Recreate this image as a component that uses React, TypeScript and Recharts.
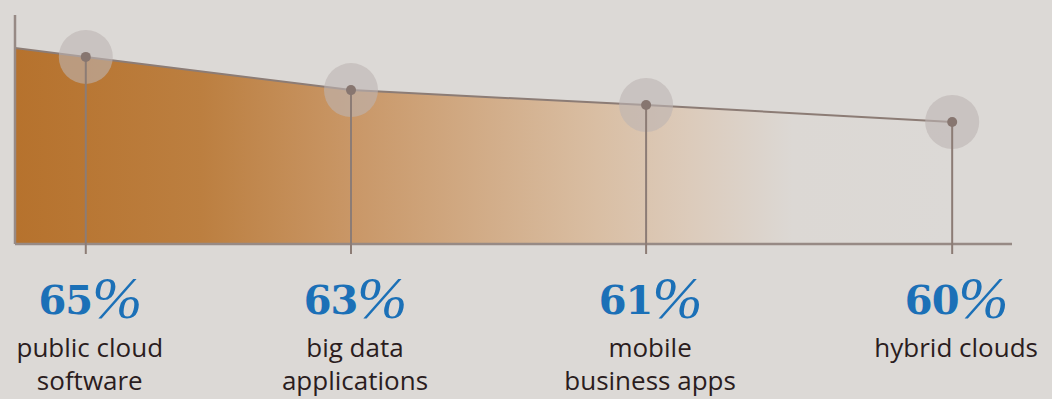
import React from 'react';
import { ComposedChart, Area, XAxis, YAxis } from 'recharts';

// where each point sits along the axis (0-100) and how high the curve is there
const positions = [0, 7.1, 33.7, 63.3, 94.0];
const heights = [85.6, 81.7, 67.2, 60.7, 53.3];
const percents = [null, 65, 63, 61, 60];
const labelLines = [
  [],
  ['public cloud', 'software'],
  ['big data', 'applications'],
  ['mobile', 'business apps'],
  ['hybrid clouds'],
];

const data = positions.map((pos, i) => ({
  pos,
  height: heights[i],
  pct: percents[i],
  lines: labelLines[i],
}));

const tickPositions = data.filter((d) => d.pct != null).map((d) => d.pos);

const W = 1052;
const H = 399;
const MARGIN = { top: 15, right: 40, left: 14, bottom: 154 };
const AXIS_Y = 244;

const BG = '#dcd9d6';
const LINE = '#8c7c75';
const AXIS = '#978a85';

function PointDot(props: any) {
  const { cx, cy, payload, index } = props;
  if (payload.pct == null) return <g key={`dot-${index}`} />;
  return (
    <g key={`dot-${index}`}>
      <circle cx={cx} cy={cy} r={27} fill="rgba(188,180,178,0.6)" />
      <line x1={cx} y1={cy} x2={cx} y2={AXIS_Y + 10} stroke={LINE} strokeWidth={2} />
      <circle cx={cx} cy={cy} r={5} fill="#877670" />
    </g>
  );
}

function CategoryTick(props: any) {
  const { x, payload } = props;
  const row = data.find((d) => d.pos === payload.value);
  if (!row) return null;
  const cx = x + 4;
  return (
    <g>
      <text
        x={cx}
        y={AXIS_Y + 70}
        textAnchor="middle"
        fill="#1b70b7"
        fontFamily="'DejaVu Serif', serif"
        fontSize={40}
        fontWeight={700}
        letterSpacing={-1}
      >
        {row.pct}
        <tspan fontFamily="'Liberation Serif', serif" fontWeight={400} fontStyle="italic" fontSize={60} dy={4}>%</tspan>
      </text>
      {row.lines.map((ln, i) => (
        <text
          key={ln}
          x={cx}
          y={AXIS_Y + 113 + i * 33}
          textAnchor="middle"
          fill="#2b1d1e"
          fontFamily="'Open Sans', sans-serif"
          fontSize={26}
        >
          {ln}
        </text>
      ))}
    </g>
  );
}

export default function App() {
  return (
    <div style={{ position: 'absolute', left: 0, top: 0, width: W, height: H, background: BG }}>
      <ComposedChart width={W} height={H} data={data} margin={MARGIN}>
        <defs>
          <linearGradient id="fade" x1="0" y1="0" x2="1" y2="0">
            <stop offset="0" stopColor="#b6722d" />
            <stop offset="0.2" stopColor="#bc7f40" />
            <stop offset="0.36" stopColor="#c99767" />
            <stop offset="0.62" stopColor="#d9bea3" />
            <stop offset="0.72" stopColor="#dccbbb" />
            <stop offset="0.83" stopColor="#dcd8d4" />
            <stop offset="1" stopColor={BG} />
          </linearGradient>
        </defs>
        <XAxis
          dataKey="pos"
          type="number"
          domain={[0, 100]}
          ticks={tickPositions}
          tick={<CategoryTick />}
          tickLine={false}
          axisLine={{ stroke: AXIS, strokeWidth: 2.5 }}
          height={1}
          interval={0}
        />
        <YAxis
          type="number"
          domain={[0, 100]}
          tick={false}
          tickLine={false}
          axisLine={{ stroke: AXIS, strokeWidth: 2.5 }}
          width={1}
        />
        <Area
          type="linear"
          dataKey="height"
          stroke={LINE}
          strokeWidth={2}
          fill="url(#fade)"
          fillOpacity={1}
          dot={PointDot}
          activeDot={false}
          isAnimationActive={false}
        />
      </ComposedChart>
    </div>
  );
}
